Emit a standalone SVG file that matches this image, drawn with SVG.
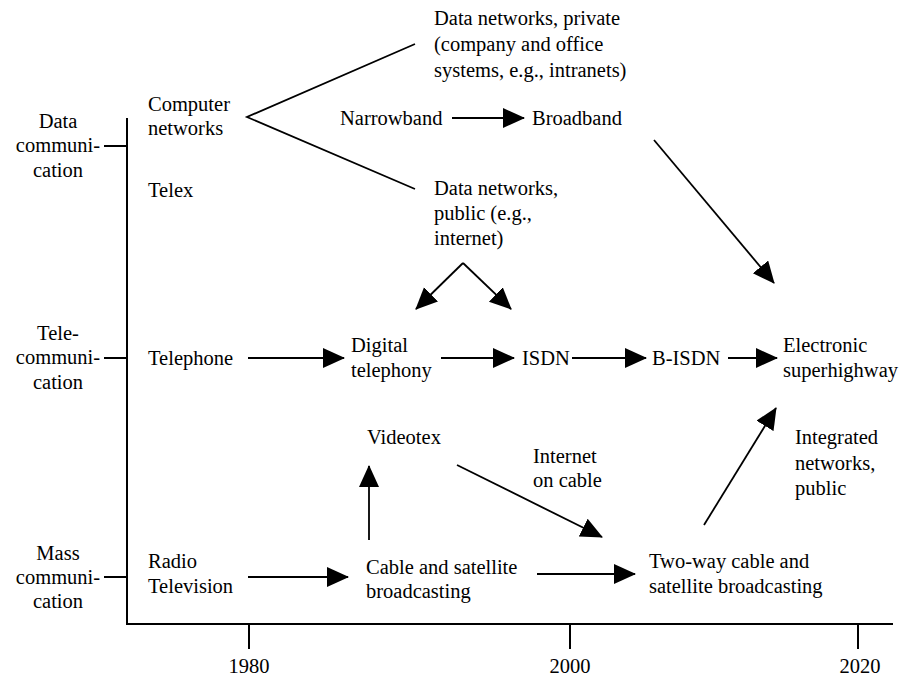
<svg xmlns="http://www.w3.org/2000/svg" width="915" height="680" viewBox="0 0 915 680">
<style>
.t{font-family:"Liberation Serif","Times New Roman",serif;font-size:20.5px;fill:#000}
.m{text-anchor:middle}
.ln{stroke:#000;stroke-width:1.8;fill:none}
.ax{stroke:#000;stroke-width:2;fill:none}
</style>
<defs>
<marker id="ah" markerUnits="userSpaceOnUse" markerWidth="23" markerHeight="21" refX="21" refY="10" orient="auto">
<path d="M0,0 L22,10 L0,20 z" fill="#000"/>
</marker>
</defs>
<rect width="915" height="680" fill="#fff"/>
<g id="axes">
<line class="ax" x1="127" y1="118" x2="127" y2="625"/>
<line class="ax" x1="126" y1="624" x2="893" y2="624"/>
<line class="ax" x1="104" y1="146" x2="127" y2="146"/>
<line class="ax" x1="104" y1="358" x2="127" y2="358"/>
<line class="ax" x1="104" y1="577" x2="127" y2="577"/>
<line class="ax" x1="249" y1="624" x2="249" y2="649"/>
<line class="ax" x1="570" y1="624" x2="570" y2="649"/>
<line class="ax" x1="858" y1="624" x2="858" y2="649"/>
<text class="t m" x="249" y="673">1980</text>
<text class="t m" x="570" y="673">2000</text>
<text class="t m" x="860" y="673">2020</text>
</g>
<g id="cat-data"><text class="t m" x="58" y="128">Data</text><text class="t m" x="58" y="152">communi-</text><text class="t m" x="58" y="177">cation</text></g>
<g id="cat-tele"><text class="t m" x="58" y="340">Tele-</text><text class="t m" x="58" y="364">communi-</text><text class="t m" x="58" y="389">cation</text></g>
<g id="cat-mass"><text class="t m" x="58" y="560">Mass</text><text class="t m" x="58" y="584">communi-</text><text class="t m" x="58" y="608">cation</text></g>
<g id="computer-networks"><text class="t" x="148" y="111">Computer</text><text class="t" x="148" y="135">networks</text></g>
<g id="telex"><text class="t" x="148" y="197">Telex</text></g>
<g id="telephone"><text class="t" x="148" y="365">Telephone</text></g>
<g id="radio-tv"><text class="t" x="148" y="568">Radio</text><text class="t" x="148" y="593">Television</text></g>
<g id="data-private"><text class="t" x="434" y="25">Data networks, private</text><text class="t" x="434" y="51">(company and office</text><text class="t" x="434" y="77">systems, e.g., intranets)</text></g>
<g id="narrowband"><text class="t" x="340" y="125">Narrowband</text></g>
<g id="broadband"><text class="t" x="532" y="125">Broadband</text></g>
<g id="data-public"><text class="t" x="434" y="195">Data networks,</text><text class="t" x="434" y="220">public (e.g.,</text><text class="t" x="434" y="245">internet)</text></g>
<g id="digital-telephony"><text class="t" x="351" y="352">Digital</text><text class="t" x="351" y="377">telephony</text></g>
<g id="isdn"><text class="t" x="522" y="365">ISDN</text></g>
<g id="b-isdn"><text class="t" x="652" y="365">B-ISDN</text></g>
<g id="superhighway"><text class="t" x="783" y="352">Electronic</text><text class="t" x="783" y="377">superhighway</text></g>
<g id="videotex"><text class="t" x="367" y="444">Videotex</text></g>
<g id="internet-cable"><text class="t" x="533" y="463">Internet</text><text class="t" x="533" y="487">on cable</text></g>
<g id="integrated"><text class="t" x="795" y="444">Integrated</text><text class="t" x="795" y="470">networks,</text><text class="t" x="795" y="495">public</text></g>
<g id="cable-sat"><text class="t" x="366" y="574">Cable and satellite</text><text class="t" x="366" y="598">broadcasting</text></g>
<g id="two-way"><text class="t" x="649" y="568">Two-way cable and</text><text class="t" x="649" y="593">satellite broadcasting</text></g>
<g id="connectors">
<polyline class="ln" points="415,44 247,117 415,189"/>
<line class="ln" x1="452" y1="118" x2="524" y2="118" marker-end="url(#ah)"/>
<line class="ln" x1="654" y1="140" x2="774" y2="283" marker-end="url(#ah)"/>
<line class="ln" x1="463" y1="263" x2="416" y2="309" marker-end="url(#ah)"/>
<line class="ln" x1="463" y1="263" x2="511" y2="309" marker-end="url(#ah)"/>
<line class="ln" x1="248" y1="358" x2="344" y2="358" marker-end="url(#ah)"/>
<line class="ln" x1="441" y1="358" x2="514" y2="358" marker-end="url(#ah)"/>
<line class="ln" x1="572" y1="358" x2="646" y2="358" marker-end="url(#ah)"/>
<line class="ln" x1="728" y1="358" x2="777" y2="358" marker-end="url(#ah)"/>
<line class="ln" x1="369" y1="540" x2="369" y2="466" marker-end="url(#ah)"/>
<line class="ln" x1="457" y1="465" x2="602" y2="537" marker-end="url(#ah)"/>
<line class="ln" x1="248" y1="577" x2="348" y2="577" marker-end="url(#ah)"/>
<line class="ln" x1="537" y1="574" x2="635" y2="574" marker-end="url(#ah)"/>
<line class="ln" x1="704" y1="525" x2="776" y2="408" marker-end="url(#ah)"/>
</g>
</svg>
